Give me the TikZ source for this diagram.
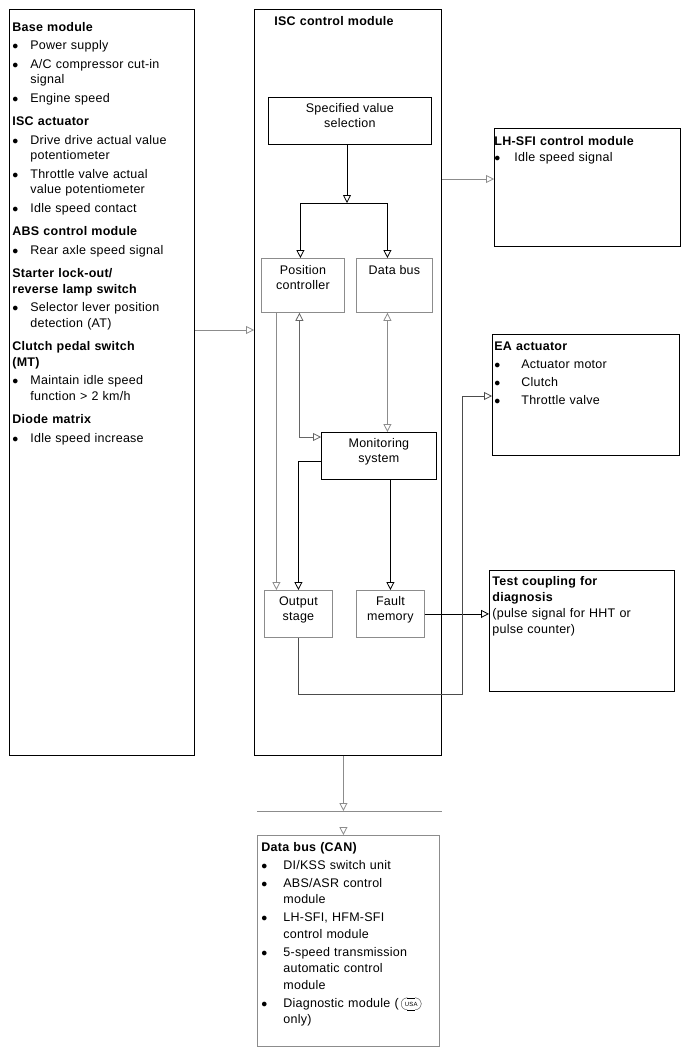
\documentclass[tikz,border=0pt]{standalone}
\usepackage{fontspec}
\setmainfont{Liberation Sans}[LetterSpace=2]
\usetikzlibrary{arrows.meta,positioning}
\newcommand{\hdtop}[1]{\noindent\textbf{#1}\par}
\newcommand{\hd}[1]{\par\vspace{5pt}\noindent\textbf{#1}\par}
\newcommand{\itm}[2][18pt]{\par\hangindent=#1\hangafter=1\noindent\makebox[#1][l]{$\bullet$}#2\par}
\newcommand{\usa}{\hspace{2.5pt}\raisebox{-2.5pt}{\setlength{\unitlength}{1pt}\begin{picture}(20,12)\put(10,6){\oval(20,12)}\put(10,6){\makebox(0,0){\fontsize{6}{6}\selectfont USA}}\end{picture}}}
\begin{document}
\begin{tikzpicture}[x=1pt,y=-1pt,line width=0.8pt,>={Triangle[open,length=8pt,width=8pt]},
box/.style={draw,anchor=north west,inner sep=0},
gbox/.style={box,draw=black!45},
gline/.style={draw=black!45},
txt/.style={anchor=north west,inner sep=0,align=left,text width=180pt,
  font=\fontsize{12.5}{15.5}\selectfont,execute at begin node=\setlength{\parskip}{#1}},
txt/.default=3pt,
ctxt/.style={inner sep=0,align=center,font=\fontsize{12.5}{15}\selectfont}]
\useasboundingbox (0,0) rectangle (690,1057);
% outer modules
\node[box,minimum width=185,minimum height=746] (base) at (9,9) {};
\node[box,minimum width=187,minimum height=746] (isc) at (254,9) {};
\node[box,minimum width=186,minimum height=118] (lh) at (494,128) {};
\node[box,minimum width=187,minimum height=121] (ea) at (492,334) {};
\node[box,minimum width=185,minimum height=121] (test) at (489,570) {};
\node[gbox,minimum width=182,minimum height=211] (can) at (257,835) {};
% inside ISC
\node[box,minimum width=163,minimum height=47] (spec) at (268,97) {};
\node[gbox,minimum width=83,minimum height=54] (pos) at (261,258) {};
\node[gbox,minimum width=76,minimum height=54] (dbus) at (356,258) {};
\node[box,minimum width=115,minimum height=47] (mon) at (321,432) {};
\node[gbox,minimum width=68,minimum height=47] (out) at (264,590) {};
\node[gbox,minimum width=68,minimum height=47] (fault) at (356,590) {};
\node[ctxt,below=6.5pt of spec.north] (spectxt) {Specified value\\selection};
\node[ctxt,below=7pt of pos.north] (postxt) {Position\\controller};
\node[ctxt,below=7pt of dbus.north] (dbustxt) {Data bus};
\node[ctxt,below=6pt of mon.north] (montxt) {Monitoring\\system};
\node[ctxt,below=6pt of out.north] (outtxt) {Output\\stage};
\node[ctxt,below=6pt of fault.north] (faulttxt) {Fault\\memory};
\node[txt] (isctitle) at (274,16) {\textbf{ISC control module}};
% texts
\node[txt] (basetxt) at (12,21.7) {\hdtop{Base module}
\itm{Power supply}
\itm{A/C compressor cut-in\newline signal}
\itm{Engine speed}
\hd{ISC actuator}
\itm{Drive drive actual value\newline potentiometer}
\itm{Throttle valve actual\newline value potentiometer}
\itm{Idle speed contact}
\hd{ABS control module}
\itm{Rear axle speed signal}
\hd{Starter lock-out/\newline reverse lamp switch}
\itm{Selector lever position\newline detection (AT)}
\hd{Clutch pedal switch\newline (MT)}
\itm{Maintain idle speed\newline function > 2 km/h}
\hd{Diode matrix}
\itm{Idle speed increase}};
\node[txt=1pt] (lhtxt) at (494,136) {\hdtop{LH-SFI control module}
\itm[20pt]{Idle speed signal}};
\node[txt=2.5pt] (eatxt) at (494,341) {\hdtop{EA actuator}
\itm[27pt]{Actuator motor}
\itm[27pt]{Clutch}
\itm[27pt]{Throttle valve}};
\node[txt=0pt,font=\fontsize{12.5}{16}\selectfont] (testtxt) at (492,576) {\hdtop{Test coupling for\newline diagnosis}
(pulse signal for HHT or\newline pulse counter)};
\node[txt=1.5pt,font=\fontsize{12.5}{16.5}\selectfont] (cantxt) at (261,842) {\hdtop{Data bus (CAN)}
\itm[22pt]{DI/KSS switch unit}
\itm[22pt]{ABS/ASR control\newline module}
\itm[22pt]{LH-SFI, HFM-SFI\newline control module}
\itm[22pt]{5-speed transmission\newline automatic control\newline module}
\itm[22pt]{Diagnostic module (\usa\newline only)}};
% connectors
\coordinate (inrow) at (0,330);
\coordinate (outrow) at (0,179);
\coordinate (split) at (347,203);
\coordinate (ret) at (462,694);
\coordinate (busw) at (257,811);
\coordinate (buse) at (442,811);
\coordinate (dbx) at ([xshift=-7pt]dbus.south);
\coordinate (pgx) at ([xshift=-26.5pt]pos.south);
\coordinate (iscx) at ([xshift=-4.5pt]isc.south);
\coordinate (canx) at ([xshift=-5pt]can.north);
\draw[gline,->] (base.east |- inrow) -- (isc.west |- inrow);
\draw[gline,->] (isc.east |- outrow) -- (lh.west |- outrow);
\draw[->] (spec.south -| split) -- (split);
\draw[->] (split) -| ([xshift=-2.5pt]pos.north);
\draw[->] (split) -| ([xshift=-7pt]dbus.north);
\draw[draw=black!60,<->] ([xshift=-3.5pt]pos.south) |- ([yshift=-5pt]mon.north west);
\draw[gline,<->] (dbx) -- (dbx |- mon.north);
\draw[gline,->] (pgx) -- (pgx |- out.north);
\draw[->] ([yshift=-29pt]mon.north west) -| (out.north);
\draw[->] (mon.south -| fault.north) -- (fault.north);
\draw[->] (fault.east) -- (fault.east -| test.west);
\draw[draw=black!70,->] (out.south) |- (ret) |- ([yshift=-62pt]ea.north west);
\draw[gline] (busw) -- (buse);
\draw[gline,->] (iscx) -- (iscx |- busw);
\draw[gline,->] ([yshift=8pt]canx) -- (canx);
\end{tikzpicture}
\end{document}
